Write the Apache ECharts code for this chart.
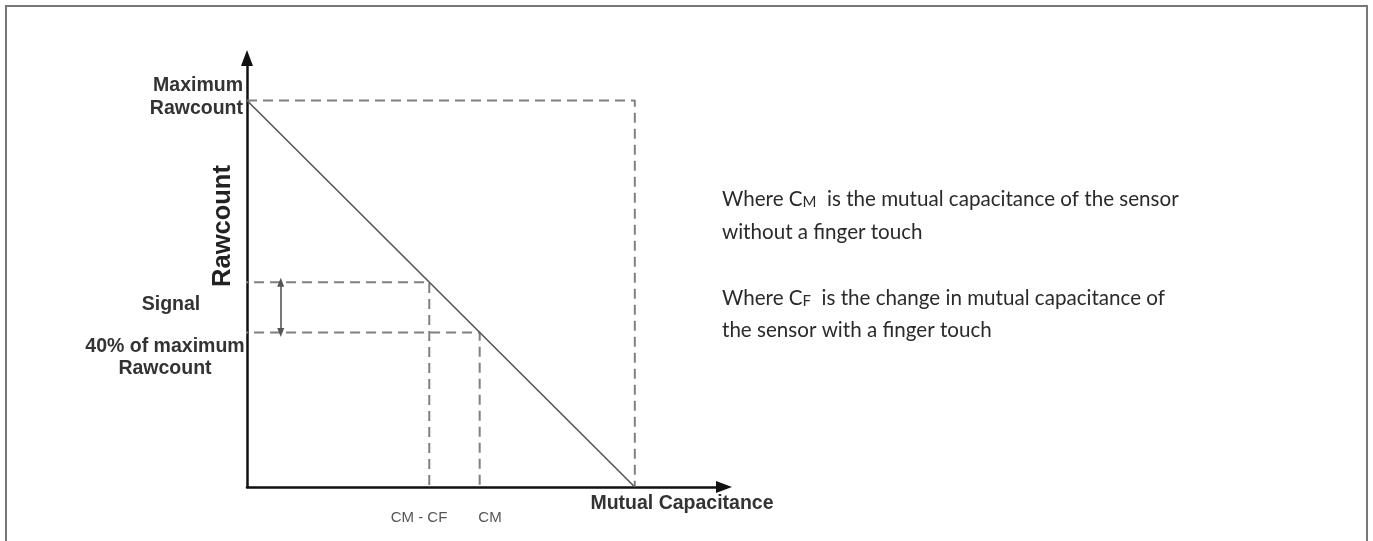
<!DOCTYPE html>
<html>
<head>
<meta charset="utf-8">
<script src="https://cdn.jsdelivr.net/npm/echarts@6/dist/echarts.min.js"></script>
<style>
  html, body { margin: 0; padding: 0; background: #ffffff; }
  #chart { width: 1373px; height: 541px; }
</style>
</head>
<body>
<div id="chart"></div>
<script>
// Rawcount versus mutual capacitance (arbitrary units, max rawcount = 100)
const axisMax = [123, 111];                 // x (capacitance), y (rawcount)
const transferLine = [[0, 100], [100, 0]];  // rawcount falls linearly with capacitance
const maxRawcountGuide = [[0, 100], [100, 100], [100, 0]];
const fingerGuide = [[-2.3, 53], [47, 53], [47, 0]];     // CM - CF
const noFingerGuide = [[-2.3, 40], [60, 40], [60, 0]];   // CM, 40% of maximum
const signalArrow = [[8.7, 53], [8.7, 40]];

const bold = '"Liberation Sans", Arial, sans-serif';
const body = 'Lato, "Open Sans", sans-serif';

const chart = echarts.init(document.getElementById('chart'), null, { renderer: 'canvas' });

const axisLineStyle = { color: '#111111', width: 2.5 };
const guideStyle = { color: '#808080', width: 2, type: [10, 6] };

function guideSeries(data) {
  return {
    type: 'line', data: data, symbol: 'none', silent: true, clip: false,
    lineStyle: guideStyle, z: 3
  };
}

const richNote = {
  a: { fontFamily: body, fontSize: 20.6, fill: '#2a2a2a', verticalAlign: 'bottom', lineHeight: 24 },
  s: { fontFamily: body, fontSize: 15, fill: '#2a2a2a', verticalAlign: 'bottom', lineHeight: 22 }
};

chart.setOption({
  animation: false,
  backgroundColor: '#ffffff',
  grid: { left: 247, right: 649, top: 58, bottom: 54 },
  xAxis: {
    type: 'value', min: 0, max: axisMax[0],
    axisLine: { show: true, onZero: false, lineStyle: axisLineStyle,
      symbol: ['none', 'triangle'], symbolSize: [12, 16] },
    axisTick: { show: false }, axisLabel: { show: false }, splitLine: { show: false }
  },
  yAxis: {
    type: 'value', min: 0, max: axisMax[1],
    axisLine: { show: true, onZero: false, lineStyle: axisLineStyle,
      symbol: ['none', 'triangle'], symbolSize: [12, 16] },
    axisTick: { show: false }, axisLabel: { show: false }, splitLine: { show: false }
  },
  series: [
    guideSeries(maxRawcountGuide),
    guideSeries(fingerGuide),
    guideSeries(noFingerGuide),
    {
      type: 'line', data: transferLine, symbol: 'none', silent: true, z: 4,
      lineStyle: { color: '#555555', width: 1.6 }
    },
    {
      type: 'line', data: [], silent: true, z: 5,
      markLine: {
        silent: true, symbol: ['triangle', 'triangle'], symbolSize: [7, 9],
        lineStyle: { color: '#555555', width: 1.6, type: 'solid' },
        label: { show: false },
        data: [[{ coord: signalArrow[0] }, { coord: signalArrow[1] }]]
      }
    }
  ],
  graphic: [
    { type: 'rect', silent: true, z: 0,
      shape: { x: 6, y: 6, width: 1361, height: 600 },
      style: { fill: 'none', stroke: '#777777', lineWidth: 2 } },
    { type: 'text', silent: true,
      style: { text: 'Maximum\nRawcount', x: 243, y: 97.5, align: 'right', verticalAlign: 'middle',
        lineHeight: 23, fontFamily: bold, fontWeight: 'bold', fontSize: 19.5, fill: '#333333' } },
    { type: 'text', silent: true,
      style: { text: 'Signal', x: 171, y: 305, align: 'center', verticalAlign: 'middle',
        fontFamily: bold, fontWeight: 'bold', fontSize: 19.5, fill: '#333333' } },
    { type: 'text', silent: true,
      style: { text: '40% of maximum\nRawcount', x: 165, y: 357.5, align: 'center', verticalAlign: 'middle',
        lineHeight: 21.5, fontFamily: bold, fontWeight: 'bold', fontSize: 19.5, fill: '#333333' } },
    { type: 'text', silent: true, x: 223, y: 226, rotation: Math.PI / 2,
      style: { text: 'Rawcount', x: 0, y: 0, align: 'center', verticalAlign: 'middle',
        fontFamily: bold, fontWeight: 'bold', fontSize: 25.5, fill: '#222222' } },
    { type: 'text', silent: true,
      style: { text: 'Mutual Capacitance', x: 682, y: 504, align: 'center', verticalAlign: 'middle',
        fontFamily: bold, fontWeight: 'bold', fontSize: 19.5, fill: '#333333' } },
    { type: 'text', silent: true,
      style: { text: 'CM - CF', x: 419, y: 518, align: 'center', verticalAlign: 'middle',
        fontFamily: bold, fontSize: 15, fill: '#555555' } },
    { type: 'text', silent: true,
      style: { text: 'CM', x: 490, y: 518, align: 'center', verticalAlign: 'middle',
        fontFamily: bold, fontSize: 15, fill: '#555555' } },
    { type: 'text', silent: true,
      style: { text: '{a|Where C}{s|M}{a|  is the mutual capacitance of the sensor}', x: 722, y: 198,
        verticalAlign: 'middle', rich: richNote } },
    { type: 'text', silent: true,
      style: { text: 'without a finger touch', x: 722, y: 232, verticalAlign: 'middle',
        fontFamily: body, fontSize: 20.6, fill: '#2a2a2a' } },
    { type: 'text', silent: true,
      style: { text: '{a|Where C}{s|F}{a|  is the change in mutual capacitance of}', x: 722, y: 297,
        verticalAlign: 'middle', rich: richNote } },
    { type: 'text', silent: true,
      style: { text: 'the sensor with a finger touch', x: 722, y: 330, verticalAlign: 'middle',
        fontFamily: body, fontSize: 20.6, fill: '#2a2a2a' } }
  ]
});
</script>
</body>
</html>
